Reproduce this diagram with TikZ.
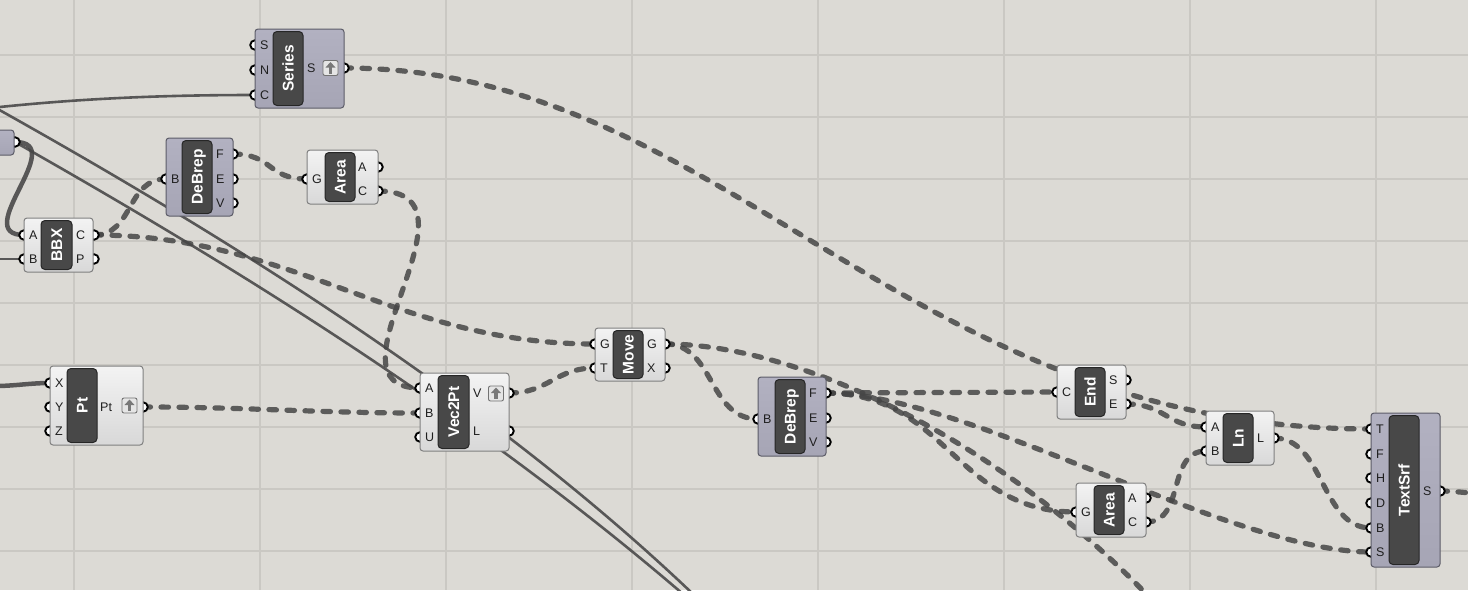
\documentclass[tikz,border=0pt]{standalone}
\usepackage{fontspec}
\setmainfont{Liberation Sans}
\pgfdeclarelayer{bg}
\pgfdeclarelayer{wires}
\pgfdeclarelayer{grips}
\pgfsetlayers{bg,wires,grips,main}
\definecolor{canvas}{RGB}{220,218,213}
\definecolor{gridc}{RGB}{202,200,195}
\definecolor{wirec}{RGB}{70,70,70}
\definecolor{lavbot}{RGB}{166,165,181}
\definecolor{lavtop}{RGB}{178,177,193}
\definecolor{lavedge}{RGB}{92,92,104}
\definecolor{lighttop}{RGB}{243,243,243}
\definecolor{lightbot}{RGB}{216,216,216}
\definecolor{lightedge}{RGB}{128,128,128}
\definecolor{innerc}{RGB}{72,72,72}
\definecolor{arrowc}{RGB}{120,120,120}
\tikzset{
  lightbox/.style={rectangle, rounded corners=3pt, draw=lightedge, line width=1pt, top color=lighttop, bottom color=lightbot, inner sep=0pt},
  lavbox/.style={rectangle, rounded corners=3pt, draw=lavedge, line width=1pt, top color=lavtop, bottom color=lavbot, inner sep=0pt},
  innerbox/.style={rectangle, rounded corners=4pt, fill=innerc, draw=black!85, line width=1pt, inner sep=0pt},
  titletext/.style={text=white, font=\bfseries\fontsize{15.5}{15.5}\selectfont, rotate=90, inner sep=0pt, text height=11pt, text depth=0pt},
  plab/.style={font=\fontsize{12.5}{13}\selectfont, text=black!88, inner sep=0pt, text height=9pt, text depth=0pt},
  grip/.style={circle, fill=white, draw=black, line width=1.9pt, minimum size=9.5pt, inner sep=0pt},
  iconbox/.style={rectangle, rounded corners=2pt, draw=black!55, line width=0.9pt, fill=black!10, minimum size=15pt, inner sep=0pt},
  dwire/.style={draw=wirec, draw opacity=0.85, line width=5.2pt, line cap=round, dash pattern=on 7.5pt off 10.5pt},
  swire/.style={draw=wirec, draw opacity=0.88, line width=2.6pt},
  twire/.style={draw=wirec, draw opacity=0.88, line width=4.5pt},
  gridline/.style={draw=gridc, line width=1.2pt}
}
\newcommand\ghcomp[9]{%
  \node[#8, minimum width={(#4-#2)*1pt}, minimum height={(#5-#3)*1pt}] (#1) at ({(#2+#4)/2},{(#3+#5)/2}) {};
  \node[innerbox, minimum width={(#7-#6)*1pt}, minimum height={(#5-#3-5)*1pt}] (#1-in) at ({(#6+#7)/2},{(#3+#5)/2}) {};
  \node[titletext] (#1-t) at (#1-in.center) {#9};
}
\newcommand\ghin[4]{%
  \begin{pgfonlayer}{grips}\node[grip] (#1) at (#2,#3) {};\end{pgfonlayer}
  \node[plab, anchor=west] (#1-l) at ({#2+5},#3) {#4};
}
\newcommand\ghout[5]{%
  \begin{pgfonlayer}{grips}\node[grip] (#1) at (#2,#3) {};\end{pgfonlayer}
  \node[plab, anchor=west] (#1-l) at (#5,#3) {#4};
}
\newcommand\ghicon[3]{%
  \node[iconbox] (#1) at (#2,#3) {};
  \fill[arrowc] ({#2-5},{#3-0.5}) -- (#2,{#3-6}) -- ({#2+5},{#3-0.5}) -- cycle;
  \fill[arrowc] ({#2-1.8},{#3-1}) rectangle ({#2+1.8},{#3+5.5});
}
\begin{document}
\begin{tikzpicture}[x=1pt,y=-1pt]
\useasboundingbox (0,0) rectangle (1468,590);
\begin{pgfonlayer}{bg}
  \fill[canvas] (0,0) rectangle (1468,590);
  \foreach \gx in {74,260,446,632,818,1004,1190,1376} \draw[gridline] (\gx,0) -- (\gx,590);
  \foreach \gy in {55,117,179,241,303,365,427,489,551} \draw[gridline] (0,\gy) -- (1468,\gy);
\end{pgfonlayer}

% off-screen component at top left
\node[lavbox, minimum width=34pt, minimum height=25pt] (tl) at (-3,142.5) {};
\begin{pgfonlayer}{grips}\node[grip] (tlOut) at (15,142) {};\end{pgfonlayer}

% Series
\ghcomp{ser}{255}{29}{344}{108}{273}{303}{lavbox}{Series}
\ghin{serS}{255}{45}{S}
\ghin{serN}{255}{70}{N}
\ghin{serC}{255}{95}{C}
\ghout{serOut}{344}{68}{S}{307}
\ghicon{serIc}{330.5}{68}

% DeBrep (top)
\ghcomp{dbA}{166}{138}{233}{216}{182}{212}{lavbox}{DeBrep}
\ghin{dbAB}{166}{179}{B}
\ghout{dbAF}{233}{154}{F}{216}
\ghout{dbAE}{233}{179}{E}{216}
\ghout{dbAV}{233}{203}{V}{216}

% Area (top)
\ghcomp{arA}{307}{150}{378}{204}{325}{355}{lightbox}{Area}
\ghin{arAG}{307}{179}{G}
\ghout{arAA}{378}{167}{A}{358}
\ghout{arAC}{378}{191}{C}{358}

% BBX
\ghcomp{bbx}{24}{218}{93}{272}{41}{72}{lightbox}{BBX}
\ghin{bbxA}{24}{235}{A}
\ghin{bbxB}{24}{259}{B}
\ghout{bbxC}{94}{235}{C}{76}
\ghout{bbxP}{94}{259}{P}{76}

% Pt
\ghcomp{pt}{50}{366}{143}{445}{67}{97}{lightbox}{Pt}
\ghin{ptX}{50}{383}{X}
\ghin{ptY}{50}{407}{Y}
\ghin{ptZ}{50}{431}{Z}
\ghout{ptOut}{143}{407}{Pt}{100}
\ghicon{ptIc}{129.5}{405.5}

% Vec2Pt
\ghcomp{v2p}{420}{373}{509}{451}{438}{469}{lightbox}{Vec2Pt}
\ghin{v2pA}{420}{388}{A}
\ghin{v2pB}{420}{413}{B}
\ghin{v2pU}{420}{437}{U}
\ghout{v2pV}{509}{393}{V}{473}
\ghout{v2pL}{509}{431}{L}{473}
\ghicon{v2pIc}{496}{393.5}

% Move
\ghcomp{mv}{595}{328}{665}{381}{613}{643}{lightbox}{Move}
\ghin{mvG}{595}{344}{G}
\ghin{mvT}{595}{368}{T}
\ghout{mvGo}{665}{344}{G}{647}
\ghout{mvX}{665}{368}{X}{647}

% DeBrep (middle)
\ghcomp{dbB}{758}{377}{826}{456}{775}{805}{lavbox}{DeBrep}
\ghin{dbBB}{758}{419}{B}
\ghout{dbBF}{826}{393}{F}{809}
\ghout{dbBE}{826}{418}{E}{809}
\ghout{dbBV}{826}{442}{V}{809}

% End
\ghcomp{end}{1057}{365}{1126}{419}{1075}{1105}{lightbox}{End}
\ghin{endC}{1057}{392}{C}
\ghout{endS}{1126}{380}{S}{1109}
\ghout{endE}{1126}{404}{E}{1109}

% Area (bottom)
\ghcomp{arB}{1076}{483}{1146}{537}{1094}{1124}{lightbox}{Area}
\ghin{arBG}{1076}{512}{G}
\ghout{arBA}{1146}{498}{A}{1128}
\ghout{arBC}{1146}{522}{C}{1128}

% Ln
\ghcomp{ln}{1206}{411}{1274}{465}{1223}{1253}{lightbox}{Ln}
\ghin{lnA}{1206}{427}{A}
\ghin{lnB}{1206}{451}{B}
\ghout{lnL}{1274}{438}{L}{1257}

% TextSrf
\ghcomp{ts}{1371}{413}{1440}{567}{1389}{1419}{lavbox}{TextSrf}
\ghin{tsT}{1371}{429}{T}
\ghin{tsF}{1371}{454}{F}
\ghin{tsH}{1371}{478}{H}
\ghin{tsD}{1371}{503}{D}
\ghin{tsB}{1371}{528}{B}
\ghin{tsS}{1371}{552}{S}
\ghout{tsOut}{1440}{491}{S}{1423}

% free ends
\coordinate (offL) at (-5,107.5);
\coordinate (offB1) at (693,594);
\coordinate (offB2) at (683,594);
\coordinate (offB3) at (1152,600);
\coordinate (offR) at (1475,493);
\coordinate (offBBX) at (-5,259);
\coordinate (offPt) at (-5,386);

\begin{pgfonlayer}{wires}
  % solid wires
  \draw[swire] (offL) .. controls +(95,-10) and +(-80,0) .. (serC.center);
  \draw[swire] (offL) .. controls (250,250) and (500,410) .. (offB1);
  \draw[swire] (tlOut.center) .. controls (250,275) and (480,420) .. (offB2);
  \draw[twire] (tlOut.center) .. controls +(55,0) and +(-55,0) .. (bbxA.center);
  \draw[swire] (offBBX) -- (bbxB.center);
  \draw[twire] (offPt) .. controls +(20,0) and +(-20,0) .. (ptX.center);
  % dashed wires
  \draw[dwire] (serOut.center) .. controls +(380,0) and +(-470,0) .. (tsT.center);
  \draw[dwire] (bbxC.center) .. controls +(40,0) and +(-40,0) .. (dbAB.center);
  \draw[dwire] (bbxC.center) .. controls +(200,0) and +(-200,0) .. (mvG.center);
  \draw[dwire] (dbAF.center) .. controls +(40,0) and +(-40,0) .. (arAG.center);
  \draw[dwire] (arAC.center) .. controls +(115,0) and +(-105,0) .. (v2pA.center);
  \draw[dwire] (ptOut.center) .. controls +(100,0) and +(-100,0) .. (v2pB.center);
  \draw[dwire] (v2pV.center) .. controls +(40,0) and +(-40,0) .. (mvT.center);
  \draw[dwire] (mvGo.center) .. controls +(50,0) and +(-50,0) .. (dbBB.center);
  \draw[dwire] (mvGo.center) .. controls (800,344) and (1000,440) .. (offB3);
  \draw[dwire] (dbBF.center) -- (endC.center);
  \draw[dwire] (dbBF.center) .. controls +(120,0) and +(-120,0) .. (arBG.center);
  \draw[dwire] (dbBF.center) .. controls +(140,0) and +(-140,0) .. (tsS.center);
  \draw[dwire] (endE.center) .. controls +(40,0) and +(-40,0) .. (lnA.center);
  \draw[dwire] (arBC.center) .. controls +(40,0) and +(-40,0) .. (lnB.center);
  \draw[dwire] (lnL.center) .. controls +(50,0) and +(-50,0) .. (tsB.center);
  \draw[dwire] (tsOut.center) .. controls +(15,0) and +(-10,0) .. (offR);
\end{pgfonlayer}
\end{tikzpicture}
\end{document}
